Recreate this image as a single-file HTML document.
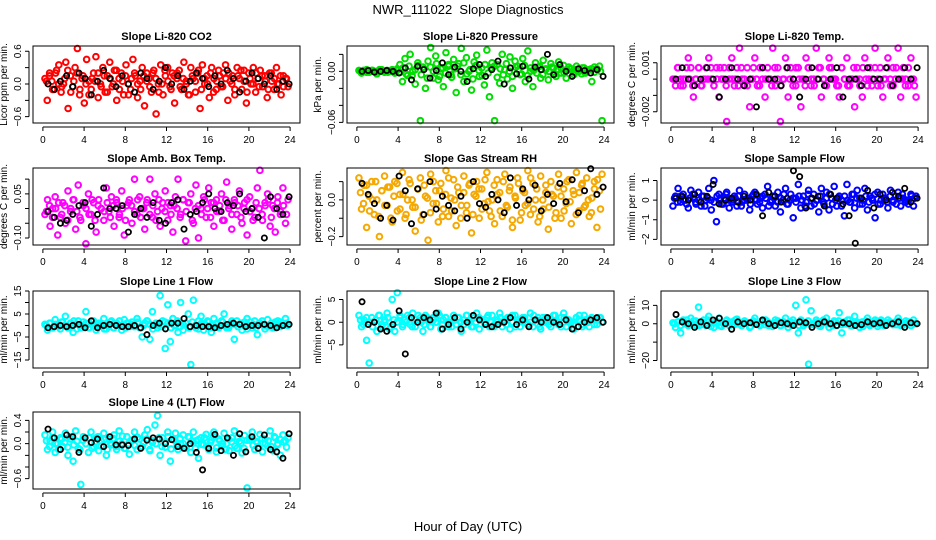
<!DOCTYPE html>
<html><head><meta charset="utf-8"><style>
html,body{margin:0;padding:0;background:#fff}
svg{display:block;font-family:"Liberation Sans",sans-serif}
</style></head><body>
<svg id="chart" width="936" height="540" viewBox="0 0 936 540" xmlns="http://www.w3.org/2000/svg">
<text x="468" y="14" font-size="13" text-anchor="middle" xml:space="preserve">NWR_111022&#160; Slope Diagnostics</text>
<text x="468" y="531" font-size="13" text-anchor="middle">Hour of Day (UTC)</text>
</svg>
<script>
const xTicks=[0,4,8,12,16,20,24];
const co2Vals=[0.1,-0.3,0.2,0.05,-0.1,0.25,0.35,-0.15,0.0,0.4,-0.45,0.15,-0.05,0.3,0.65,-0.2,0.1,-0.35,0.45,0.05,-0.1,0.2,0.5,-0.25,0.0,0.3,-0.15,0.15,0.4,-0.05,0.25,-0.3,0.1,0.2,-0.2,0.35,0.0,-0.1,0.45,0.15,-0.25,0.05,0.3,-0.4,0.2,0.1,-0.15,0.25,-0.55,0.0,0.35,-0.2,0.15,0.3,-0.05,0.2,-0.35,0.1,0.25,-0.1,0.4,0.05,-0.2,0.3,0.1,-0.15,0.2,-0.45,0.35,0.0,0.15,-0.25,0.3,0.1,-0.1,0.25,-0.05,0.2,0.35,-0.3,0.05,0.15,-0.2,0.3,0.1,-0.1,0.25,-0.35,0.2,0.0,0.3,-0.15,0.1,0.25,-0.05,0.15,-0.25,0.2,0.05,-0.1,0.3,0.0,-0.2,0.15,0.1,-0.05];
const co2Core=[0.05,0.15,-0.1,0.2,0.0,-0.05,0.1,0.25,-0.15,0.05,0.2,-0.1,0.15,0.0,-0.2,0.1,0.05,0.2,-0.05,0.15,-0.15,0.1,0.0,0.25,-0.1,0.05,0.15,-0.2,0.1,0.2,0.0,-0.1,0.15,0.05,-0.05,0.2,0.1,-0.15,0.0,0.25,0.05,-0.1,0.15,0.2,-0.05,0.1,0.0,-0.2,0.15,0.05,0.25,-0.1,0.1,0.0,0.2,-0.15,0.05,0.15,-0.05,0.1,0.2,0.0,-0.1,0.15,0.25,0.05,-0.15,0.1,0.0,0.2,-0.05,0.15,0.05,-0.1,0.2,0.1,0.0,0.15,-0.05,0.1];
const co2Black=[0.0,-0.1,0.05,0.15,-0.05,0.2,0.1,-0.2,0.05,0.25,0.1,-0.05,0.15,0.0,-0.15,0.2,0.1,-0.1,0.05,0.3,0.0,0.15,-0.1,0.05,0.2,0.1,-0.05,0.15,0.0,0.25,0.1,-0.15,0.05,0.2,0.1,0.0,0.15,-0.1,0.05,0.0];
const presVals=[0.001,-0.002,0.0,0.002,-0.001,0.001,0.0,-0.003,0.002,0.0,-0.001,0.001,0.0,0.002,-0.002,0.003,0.008,-0.012,0.015,-0.005,0.02,0.0,-0.015,0.01,-0.058,0.005,-0.02,0.012,0.028,-0.008,0.018,-0.01,0.003,-0.018,0.022,0.006,-0.004,0.014,-0.025,0.009,0.027,-0.012,0.016,0.0,-0.022,0.011,0.019,-0.006,0.004,-0.016,0.025,-0.03,0.01,-0.058,0.008,-0.014,0.02,0.002,-0.009,0.017,-0.02,0.012,0.006,-0.004,0.015,-0.012,0.024,0.0,-0.018,0.01,0.005,-0.008,0.013,0.002,-0.01,0.009,0.004,-0.006,0.011,-0.002,0.007,-0.008,0.005,0.003,-0.004,0.006,0.001,-0.003,0.004,0.0,0.002,-0.012,0.005,0.003,0.006,-0.058];
const presCore=[0.0,0.001,-0.001,0.0,0.001,-0.001,0.0,0.002,0.0,-0.001,0.001,0.0,0.001,-0.001,0.004,-0.003,0.006,-0.005,0.002,0.007,-0.004,0.003,-0.008,0.005,0.0,0.009,-0.006,0.004,-0.002,0.008,-0.007,0.003,0.006,-0.004,0.01,-0.003,0.002,-0.009,0.007,0.001,-0.005,0.008,-0.002,0.004,0.006,-0.007,0.003,-0.004,0.009,0.0,-0.006,0.005,0.002,-0.003,0.007,-0.005,0.004,0.001,-0.002,0.006,-0.004,0.003,0.0,0.005,-0.003,0.002,0.004,-0.002,0.001,0.003,-0.001,0.002,0.0,0.004,-0.002,0.001,0.003,-0.001,0.002,0.0];
const presBlack=[0.0,0.001,-0.001,0.0,0.001,0.0,-0.002,0.004,-0.01,0.006,0.002,-0.008,0.001,0.01,-0.004,0.005,0.0,-0.012,0.003,0.008,-0.006,0.002,0.012,-0.015,0.004,-0.003,0.006,-0.009,0.005,0.002,0.02,-0.004,0.008,0.0,-0.006,0.003,0.001,-0.002,0.002,-0.006];
const tempVals=[0.0,-0.0004,0.0007,0.0,-0.0004,0.0,0.0013,0.0007,-0.0011,0.0,0.0007,-0.0004,0.0,0.0007,0.0013,0.0,-0.0004,0.0007,-0.0011,0.0,0.0007,-0.0026,0.0,0.0013,-0.0004,0.0007,0.0019,0.0,-0.0004,0.0007,-0.0017,0.0,0.0013,-0.0004,0.0007,0.0,-0.0011,0.0007,0.0,0.0019,-0.0004,0.0007,-0.0026,0.0,0.0013,-0.0011,0.0007,0.0,-0.0004,0.0007,-0.0017,0.0,0.0013,0.0007,-0.0004,0.0,0.0019,0.0007,-0.0011,0.0,-0.0004,0.0013,0.0007,0.0,-0.0004,-0.0011,0.0007,0.0,0.0013,-0.0004,0.0,-0.0017,0.0007,0.0,-0.0011,0.0013,-0.0004,0.0007,0.0,0.0019,-0.0004,0.0007,-0.0011,0.0,0.0013,-0.0004,0.0007,0.0,0.0019,-0.0011,0.0007,0.0,-0.0004,0.0013,0.0,-0.0011];
const tempCore=[0.0,0.0007,-0.0004,0.0,0.0007,0.0,-0.0004,0.0,0.0007,-0.0004,0.0,0.0,0.0007,-0.0004,0.0,0.0007,0.0,-0.0004,0.0007,0.0,0.0,-0.0004,0.0007,0.0,-0.0004,0.0,0.0007,0.0,-0.0004,0.0007,0.0,0.0,-0.0004,0.0007,0.0,-0.0004,0.0,0.0007,0.0,-0.0004,0.0007,0.0,0.0,-0.0004,0.0007,0.0,-0.0004,0.0,0.0007,0.0,-0.0004,0.0007,0.0,0.0,-0.0004,0.0007,0.0,-0.0004,0.0,0.0007,0.0,-0.0004,0.0007,0.0,0.0,-0.0004,0.0007,0.0,-0.0004,0.0,0.0007,0.0,-0.0004,0.0007,0.0,0.0,-0.0004,0.0007,0.0,-0.0004];
const tempBlack=[0.0,0.0007,0.0,-0.0004,0.0,0.0007,0.0,-0.0011,0.0,0.0007,0.0,-0.0004,0.0,-0.0017,0.0007,0.0,0.0,-0.0004,0.0007,0.0,-0.0011,0.0,0.0007,0.0,-0.0004,0.0,0.0007,-0.0011,0.0,0.0,-0.0004,0.0007,0.0,0.0,0.0007,-0.0004,0.0,0.0007,0.0,0.0007];
const ambVals=[-0.02,0.03,-0.06,0.0,0.04,-0.09,-0.03,0.02,-0.05,0.06,-0.01,0.03,-0.07,0.08,-0.04,0.01,-0.12,0.05,-0.02,0.02,-0.08,0.03,0.0,-0.04,0.07,-0.01,0.04,-0.06,0.02,-0.03,0.06,-0.09,0.01,0.03,-0.05,0.1,-0.02,0.04,0.0,-0.07,0.03,0.1,-0.03,0.05,-0.01,-0.06,0.02,0.06,-0.04,0.01,-0.08,0.04,0.1,-0.02,0.03,-0.11,0.02,0.05,-0.05,0.08,-0.1,0.0,0.04,-0.03,0.07,0.02,-0.06,0.03,-0.01,0.05,-0.04,0.09,0.01,-0.07,0.03,-0.02,0.06,-0.05,0.02,-0.09,0.04,0.0,-0.03,0.07,0.13,-0.04,0.02,0.05,-0.06,0.01,-0.08,0.04,-0.02,0.07,-0.05,0.03];
const ambCore=[-0.01,0.01,-0.03,0.0,0.02,-0.02,0.01,-0.04,0.0,0.03,-0.01,-0.03,0.02,0.0,-0.02,0.03,-0.04,0.01,0.0,-0.01,0.02,-0.03,0.01,0.03,-0.02,0.0,-0.04,0.02,0.01,-0.01,0.03,-0.03,0.0,0.02,-0.02,0.01,-0.04,0.03,0.0,-0.01,0.02,-0.02,0.01,0.0,-0.03,0.03,-0.01,0.02,-0.04,0.0,0.01,-0.02,0.03,0.0,-0.03,0.02,-0.01,0.01,-0.04,0.03,0.0,-0.02,0.02,0.01,-0.03,0.0,0.03,-0.01,-0.04,0.02,0.0,-0.02,0.01,0.03,-0.03,0.0,0.02,-0.01,0.01,-0.02];
const ambBlack=[-0.01,-0.03,-0.05,-0.04,-0.02,0.01,0.02,-0.06,-0.02,0.07,0.0,0.0,0.01,-0.08,-0.02,0.0,-0.03,0.02,-0.04,-0.05,0.02,0.03,-0.07,-0.02,-0.01,0.02,0.05,0.0,-0.01,0.02,0.01,0.05,-0.01,0.0,-0.03,-0.1,0.04,0.0,-0.02,0.04];
const rhVals=[0.12,-0.05,0.08,-0.15,0.02,0.1,-0.08,0.0,-0.2,0.05,0.13,-0.03,0.07,-0.12,0.1,-0.06,0.03,0.15,-0.1,0.0,0.09,-0.04,-0.17,0.06,0.12,-0.08,0.02,-0.22,0.14,-0.02,0.05,-0.12,0.09,-0.05,0.16,-0.09,0.01,0.11,-0.14,0.04,-0.03,0.13,-0.07,0.08,-0.18,0.03,0.1,-0.1,0.06,-0.02,0.15,-0.06,0.0,-0.13,0.11,0.04,-0.09,0.14,-0.04,0.07,-0.15,0.02,0.12,-0.11,0.05,-0.03,0.16,-0.08,0.09,0.0,-0.12,0.13,-0.05,0.04,-0.16,0.1,0.02,-0.07,0.14,-0.1,0.06,-0.02,0.11,-0.13,0.03,0.15,-0.06,0.08,-0.04,0.12,-0.09,0.01,0.1,-0.15,0.05,0.14];
const rhCore=[0.04,-0.02,0.08,-0.06,0.0,0.1,-0.09,0.05,-0.03,0.07,-0.1,0.02,0.09,-0.05,0.03,-0.08,0.11,0.0,-0.04,0.06,-0.11,0.08,0.01,-0.07,0.1,-0.02,0.05,-0.09,0.03,0.12,-0.06,0.0,0.07,-0.1,0.04,-0.03,0.09,-0.08,0.02,0.06,-0.05,0.11,-0.01,-0.09,0.08,0.03,-0.06,0.1,-0.03,0.05,-0.11,0.01,0.09,-0.07,0.04,-0.02,0.12,-0.05,0.06,-0.09,0.0,0.08,-0.04,0.03,-0.1,0.07,0.02,-0.06,0.1,-0.01,0.05,-0.08,0.04,0.09,-0.03,0.0,-0.07,0.06,0.11,-0.05];
const rhBlack=[0.09,0.03,-0.02,-0.1,-0.03,-0.11,0.13,0.05,-0.13,0.06,-0.08,0.1,-0.05,0.02,-0.03,-0.06,0.02,-0.1,0.1,-0.02,-0.04,0.03,0.0,-0.07,0.12,-0.03,0.06,0.0,0.08,-0.06,0.03,-0.02,0.09,-0.01,0.11,-0.07,0.05,0.17,0.03,0.07];
const sampVals=[-0.3,0.2,0.6,-0.1,0.3,0.0,-0.4,0.5,0.1,-0.2,0.4,-0.3,0.2,0.0,0.6,-0.5,1.0,-1.1,0.3,-0.2,0.1,0.4,-0.4,0.0,0.2,-0.3,0.5,-0.1,0.3,0.0,-0.5,0.2,0.4,-0.2,0.1,-0.4,0.3,0.7,-0.1,0.2,-0.3,0.4,-0.6,0.0,0.6,-0.2,0.3,-0.9,0.1,0.8,-0.4,0.2,-0.1,0.5,-0.3,0.3,0.0,-0.6,0.6,-0.2,0.4,-0.5,0.1,0.7,-0.3,0.2,0.0,-0.8,0.8,-0.1,0.3,-0.4,0.5,0.1,-0.2,0.6,-0.5,0.2,0.0,-0.9,0.4,-0.2,0.3,0.1,-0.4,0.5,-0.1,0.2,0.4,-0.3,0.1,0.0,-0.2,0.3,-0.3,0.2];
const sampCore=[0.1,-0.1,0.2,0.0,-0.2,0.1,0.3,-0.1,0.0,0.2,-0.3,0.1,0.0,-0.1,0.2,0.1,-0.2,0.3,0.0,-0.1,0.1,0.2,-0.3,0.0,0.1,-0.2,0.3,0.0,-0.1,0.2,0.1,-0.3,0.0,0.2,-0.1,0.1,0.3,-0.2,0.0,0.1,-0.1,0.2,0.0,-0.3,0.3,0.1,-0.2,0.0,0.2,-0.1,0.1,0.3,-0.2,0.0,0.1,-0.3,0.2,0.0,-0.1,0.3,0.1,-0.2,0.0,0.2,-0.1,0.1,0.3,-0.2,0.0,0.1,-0.1,0.2,0.0,-0.2,0.1,0.3,-0.1,0.0,0.2,0.1];
const sampBlack=[0.1,0.2,0.0,0.3,-0.1,0.2,0.8,-0.2,0.0,0.1,-0.1,0.2,0.0,0.3,-0.8,0.4,0.2,-0.1,0.1,1.5,1.2,-0.4,0.1,0.2,-0.3,0.3,0.1,-0.2,-0.8,-2.2,0.1,0.5,-0.4,0.3,0.0,0.4,0.2,0.6,-0.1,0.1];
const l1Vals=[0.5,-2,1,-1,2.5,0,-1.5,1.5,4,-0.5,1,-3,0.5,2,-1,1.5,6,-1,0.5,2,-2,1,0,3,-1.5,0.5,2,-1,1,0,-2,2.5,1,-0.5,1.5,0,3,-1,-5,1,2,-6,6,0.5,-1,13,2,-10,9,-7,3,0,-3,10,-2,1,5,-17,11,-1,2,4,-2,0,1.5,-3,3,0.5,-1,2,5,-1,0,1,-6,2,0.5,-2,1.5,3,0,-1,2,-4,1,0.5,-1.5,2.5,0,-1,1.5,2,-0.5,1,3,0];
const l1Core=[0,1,-1,0.5,-0.5,1.5,0,-1,1,2,-1.5,0.5,0,1,-1,2,0.5,-0.5,1,-1.5,0,1.5,-1,0.5,2,0,-1,1,0.5,-0.5,1.5,-1,0,2,0.5,-1.5,1,0,-0.5,1.5,1,-1,0,2,-0.5,0.5,1,-1,1.5,0,-1.5,1,0.5,2,-1,0,1,-0.5,1.5,0,-1,2,0.5,-0.5,1,0,-1.5,1.5,0.5,-1,1,2,0,-0.5,1,-1,0.5,1.5,0,1];
const l1Black=[-1,-0.5,0,-0.5,0,0.5,-1,2,-1,0,0.5,0,-0.5,-0.5,0,-1,-4,0,1,-1.5,1,1,3,-0.5,0,-0.5,-0.5,-1,0,0.5,1,0.5,-0.5,0,0,0.5,0,-1,0,0.5];
const l2Vals=[1.5,-1,0.5,-4,-9,1,0,-2,1.5,-1,0.5,2,-1.5,5,-2,6.5,1,-1,0.5,1.5,-0.5,2,-1,0,1,-2,1.5,0.5,-1,1,0,2,-1.5,0.5,1,-1,0,1.5,-0.5,1,-2,0.5,1.5,0,-1,1,2,-1.5,0.5,0,1,-1,1.5,-0.5,0,2,-1,0.5,1,-1.5,0,1.5,0.5,-1,1,0,-0.5,2,-1,0.5,1,-1.5,0,1,0.5,-1,1.5,0,-0.5,1,2,-1,0.5,0,-1.5,1,0.5,-0.5,1.5,0,-1,1,0.5,-0.5,1,0];
const l2Core=[0.5,-0.5,1,0,-1,0.5,1.5,-0.5,0,1,-1,0.5,0,1.5,-0.5,0,1,-1,0.5,1.5,0,-0.5,1,-1,0.5,0,1.5,-0.5,1,0,-1,0.5,1,0,-0.5,1.5,0.5,-1,0,1,0.5,-0.5,1.5,0,-1,0.5,1,0,-0.5,1,1.5,-1,0,0.5,1,-0.5,0,1.5,0.5,-1,1,0,-0.5,0.5,1.5,0,-1,1,0.5,0,-0.5,1,1.5,-1,0.5,0,1,-0.5,0.5,1];
const l2Black=[4.5,-0.5,0,-1.5,-2,-0.5,2.5,-7,1,0,1,0.5,2,-1.5,-0.5,1,-1.5,0,1.5,0.5,-0.5,-1,-0.5,0,1,-0.5,0.5,-1,0.5,0,1,0,-0.5,0.5,-1.5,-1,0,0.5,1,0];
const l3Vals=[0.5,-2,1,-5,2,0,-1,3,1.5,-1,9,-0.5,2,-1,4,0.5,-2,1,3,-1.5,0,2,-1,1,-0.5,2.5,0,-1,1.5,0.5,-2,1,3,0,-1,2,-0.5,1,0,-1.5,2,1,-1,0.5,3,-2,1,0,10,-5,2,-1,13,-22,7,0,2,-1,1,0.5,3,-2,0,1.5,-1,6,-5,1,0,2,-1,4,0.5,-2,1,0,3,-1,0.5,2,-1.5,1,0,-1,2,0.5,-0.5,1,3,-1,0,1.5,0.5,-1,2,0];
const l3Core=[0,1,-1,0.5,2,-0.5,0,1.5,-1,1,0,2,-1.5,0.5,1,-1,0,1.5,0.5,-0.5,2,0,-1,1,0.5,-1.5,1.5,0,-0.5,1,2,-1,0,0.5,1.5,-1,1,0,-0.5,2,0.5,-1,1,0,1.5,-0.5,0,1,-1.5,2,0.5,0,-1,1,1.5,-0.5,0,2,-1,0.5,1,0,-1.5,1.5,0.5,-0.5,1,0,2,-1,0.5,1,0,-0.5,1.5,-1,0,1,0.5,0];
const l3Black=[5,1,0,-2,1,-1,2,3,0,-3,1,0,0.5,-0.5,2,0,-1,0.5,0,-1,1,0.5,-2,0,1,0,-1,0.5,0,-1,-0.5,1,0,0.5,-1,0,1,-2,0.5,0];
const l4Vals=[0.15,-0.1,0.05,0.2,-0.15,0.0,0.1,-0.05,0.18,-0.2,0.08,-0.3,0.22,-0.08,-0.7,0.12,0.0,-0.15,0.2,-0.05,0.1,-0.12,0.05,0.18,-0.2,0.08,-0.02,0.15,-0.1,0.22,0.0,-0.08,0.12,-0.18,0.05,0.2,-0.1,0.08,-0.05,0.15,0.24,-0.12,0.02,0.32,0.48,-0.2,0.1,-0.06,0.2,-0.3,0.08,0.18,-0.1,0.0,0.15,-0.08,0.12,-0.15,0.2,0.05,-0.25,0.1,-0.02,0.16,-0.1,0.06,0.2,-0.14,0.08,-0.05,0.18,0.0,-0.12,0.1,0.22,-0.08,0.04,-0.16,0.14,-0.76,0.06,0.2,-0.1,0.02,0.16,-0.14,0.08,-0.04,0.22,-0.12,0.1,0.0,-0.2,0.15,0.05,0.1];
const l4Core=[0.05,-0.05,0.1,0.0,-0.1,0.08,0.02,-0.06,0.12,-0.02,0.04,-0.1,0.06,0.0,0.1,-0.08,0.03,0.12,-0.04,0.07,-0.1,0.01,0.09,-0.05,0.04,0.13,-0.08,0.0,0.06,-0.03,0.11,-0.07,0.02,0.08,-0.1,0.05,0.0,0.1,-0.05,0.03,0.12,-0.09,0.06,-0.02,0.09,0.0,-0.06,0.11,0.04,-0.08,0.07,-0.01,0.1,-0.05,0.02,0.13,-0.07,0.05,0.0,-0.1,0.08,0.03,-0.04,0.11,0.01,-0.08,0.06,0.1,-0.03,0.04,-0.07,0.09,0.0,0.05,-0.05,0.12,-0.02,0.07,0.03,-0.06];
const l4Black=[0.25,0.1,-0.1,0.15,0.12,-0.15,0.1,0.02,0.08,-0.05,0.12,-0.02,-0.02,-0.03,0.08,-0.08,0.06,0.1,0.08,0.0,0.07,-0.05,-0.08,0.0,-0.15,-0.45,-0.08,0.16,-0.12,0.1,-0.2,0.17,-0.14,0.12,-0.08,0.15,-0.1,-0.14,-0.25,0.17];

const colBox=[33,347,661], rowTop=[46,168,291,412], boxW=267, boxH=77;
const panels=[
 {name:'co2',title:'Slope Li-820 CO2',ylab:'Licor ppm per min.',top:0.696,bot:-0.716,ticks:[0.6,0.3,0,-0.3,-0.6],labels:['0.6','0.0','-0.6'],lv:[0.6,0,-0.6],color:'#ff0000',vals:co2Vals,core:co2Core,black:co2Black,c:0,r:0},
 {name:'pressure',title:'Slope Li-820 Pressure',ylab:'kPa per min.',top:0.0298,bot:-0.0608,ticks:[0.02,0,-0.02,-0.04,-0.06],labels:['0.00','-0.06'],lv:[0,-0.06],color:'#00dd00',vals:presVals,core:presCore,black:presBlack,c:1,r:0},
 {name:'temp',title:'Slope Li-820 Temp.',ylab:'degrees C per min.',top:0.00203,bot:-0.00269,ticks:[0.001,0,-0.001,-0.002],labels:['0.001','-0.002'],lv:[0.001,-0.002],color:'#ff00ff',vals:tempVals,core:tempCore,black:tempBlack,c:2,r:0},
 {name:'amb-box-temp',title:'Slope Amb. Box Temp.',ylab:'degrees C per min.',top:0.138,bot:-0.124,ticks:[0.1,0.05,0,-0.05,-0.1],labels:['0.05','-0.10'],lv:[0.05,-0.1],color:'#ff00ff',vals:ambVals,core:ambCore,black:ambBlack,c:0,r:1},
 {name:'gas-rh',title:'Slope Gas Stream RH',ylab:'percent per min.',top:0.174,bot:-0.246,ticks:[0.1,0,-0.1,-0.2],labels:['0.0','-0.2'],lv:[0,-0.2],color:'#f5a800',vals:rhVals,core:rhCore,black:rhBlack,c:1,r:1},
 {name:'sample-flow',title:'Slope Sample Flow',ylab:'ml/min per min.',top:1.64,bot:-2.29,ticks:[1,0,-1,-2],labels:['1','0','-1','-2'],lv:[1,0,-1,-2],color:'#0000ff',vals:sampVals,core:sampCore,black:sampBlack,c:2,r:1},
 {name:'line1-flow',title:'Slope Line 1 Flow',ylab:'ml/min per min.',top:15,bot:-18.5,ticks:[15,10,5,0,-5,-10,-15],labels:['15','5','-5','-15'],lv:[15,5,-5,-15],color:'#00ffff',vals:l1Vals,core:l1Core,black:l1Black,c:0,r:2},
 {name:'line2-flow',title:'Slope Line 2 Flow',ylab:'ml/min per min.',top:6.88,bot:-10.1,ticks:[5,0,-5],labels:['5','0','-5'],lv:[5,0,-5],color:'#00ffff',vals:l2Vals,core:l2Core,black:l2Black,c:1,r:2},
 {name:'line3-flow',title:'Slope Line 3 Flow',ylab:'ml/min per min.',top:17.8,bot:-24.1,ticks:[10,0,-10,-20],labels:['10','0','-20'],lv:[10,0,-20],color:'#00ffff',vals:l3Vals,core:l3Core,black:l3Black,c:2,r:2},
 {name:'line4-flow',title:'Slope Line 4 (LT) Flow',ylab:'ml/min per min.',top:0.544,bot:-0.778,ticks:[0.4,0.2,0,-0.2,-0.4,-0.6],labels:['0.4','0.0','-0.6'],lv:[0.4,0,-0.6],color:'#00ffff',vals:l4Vals,core:l4Core,black:l4Black,c:0,r:3}
];
const svg=document.getElementById('chart');
const NS='http://www.w3.org/2000/svg';
function mk(tag,at,parent){const e=document.createElementNS(NS,tag);for(const k in at)e.setAttribute(k,at[k]);(parent||svg).appendChild(e);return e;}
panels.forEach(p=>{
 const L=colBox[p.c],T=rowTop[p.r],B=T+boxH;
 const g=mk('g',{});
 
 
 const xs=h=>L+boxW*(h+0.96)/25.92;
 const ys=v=>T+boxH*(p.top-v)/(p.top-p.bot);
 const t=mk('text',{x:L+boxW/2,y:T-6,'font-size':11,'font-weight':'bold','text-anchor':'middle'},g);t.textContent=p.title;
 
 
 const cx=L-26,cy=T+boxH/2;
 const yl=mk('text',{x:cx,y:cy,'font-size':10,'text-anchor':'middle',transform:`rotate(-90 ${cx} ${cy})`},g);yl.textContent=p.ylab;
 
 
 const ya=mk('path',{d:`M${L-4},${ys(p.ticks[0])}V${ys(p.ticks[p.ticks.length-1])}`+p.ticks.map(v=>`M${L-4},${ys(v)}h-4`).join(''),stroke:'#000','stroke-width':1,fill:'none'},g);
 
 
 p.labels.forEach((lb,i)=>{const yy=ys(p.lv[i]);const tx=L-12;const e=mk('text',{x:tx,y:yy,'font-size':10,'text-anchor':'middle',transform:`rotate(-90 ${tx} ${yy})`},g);e.textContent=lb.replace('-','\u2212');
  
  });
 const xa=mk('path',{d:`M${xs(0)},${B+4}H${xs(24)}`+xTicks.map(h=>`M${xs(h)},${B+4}v4`).join(''),stroke:'#000','stroke-width':1,fill:'none'},g);
 
 
 xTicks.forEach(h=>{const e=mk('text',{x:xs(h),y:B+20,'font-size':10,'text-anchor':'middle'},g);e.textContent=h;
  
  });
 const n=p.vals.length;
 p.vals.forEach((v,i)=>{const c=mk('circle',{cx:xs(0.2+23.6*i/(n-1)),cy:ys(v),r:2.8,fill:'none',stroke:p.color,'stroke-width':2},g);
  
  });
 const k=p.core.length;
 p.core.forEach((v,i)=>{const c=mk('circle',{cx:xs(0.35+23.3*i/(k-1)),cy:ys(v),r:2.8,fill:'none',stroke:p.color,'stroke-width':2},g);
  
  });
 const m=p.black.length;
 p.black.forEach((v,i)=>{const c=mk('circle',{cx:xs(0.5+23.4*i/(m-1)),cy:ys(v),r:2.6,fill:'none',stroke:'#000','stroke-width':1.8},g);
  
  });
 const box=mk('rect',{x:L,y:T,width:boxW,height:boxH,fill:'none',stroke:'#000','stroke-width':1},g);
 
 
});
</script>
</body></html>
